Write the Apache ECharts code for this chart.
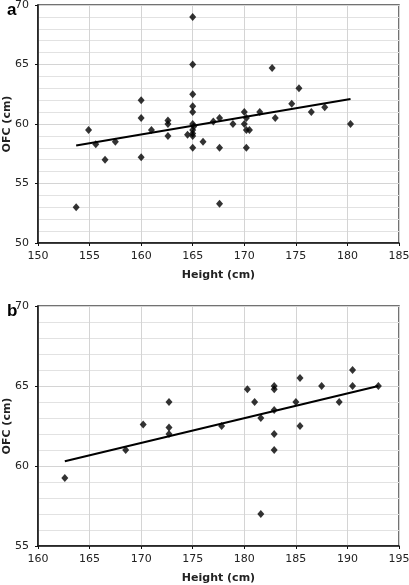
<!DOCTYPE html>
<html>
<head>
<meta charset="utf-8">
<script src="https://cdn.jsdelivr.net/npm/echarts@6/dist/echarts.min.js"></script>
<style>
html,body{margin:0;padding:0;background:#fff;}
#main{width:409px;height:585px;}
</style>
</head>
<body>
<div id="main"></div>
<script>
// Panel a data
var heightA = [165,165,165,165,165,165,165.1,165,165,165,165,
  172.7,175.3,174.6,180.3,176.5,177.8,173,171.5,
  170,170.2,170,170.2,170.5,170.2,168.9,167.6,167,167.6,166,164.5,
  160,160,161,162.6,162.6,162.6,154.9,155.6,157.5,156.5,160,153.7,167.6];
var ofcA = [69,65,62.5,61.5,61,60,59.8,59.5,59.2,59,58,
  64.7,63,61.7,60,61,61.4,60.5,61,
  61,60.5,60,59.5,59.5,58,60,60.5,60.2,58,58.5,59.1,
  62,60.5,59.5,60.3,60,59,59.5,58.3,58.5,57,57.2,53,53.3];
var trendAx = [153.7,180.3];
var trendAy = [58.2,62.1];

// Panel b data
var heightB = [193,190.5,190.5,189.2,187.5,185.4,185,185.4,182.9,182.9,182.9,182.9,182.9,
  180.3,181,181.6,181.6,177.8,172.7,172.7,172.7,170.2,168.5,162.6];
var ofcB = [65,66,65,64,65,65.5,64,62.5,65,64.8,63.5,62,61,
  64.8,64,63,57,62.5,64,62.4,62,62.6,61,59.25];
var trendBx = [162.6,193];
var trendBy = [60.3,65];

var xTicksA = [150,185], yTicksA = [50,70];
var xTicksB = [160,195], yTicksB = [55,70];

function pairs(xs, ys){ return xs.map(function(x,i){ return [x, ys[i]]; }); }

var FONT = 'DejaVu Sans';
function xAxis(gi, rng){
  return {
    type:'value', gridIndex:gi, min:rng[0], max:rng[1], interval:5,
    name:'Height (cm)', nameLocation:'middle', nameGap:27, nameMoveOverlap:false,
    nameTextStyle:{fontFamily:FONT, fontWeight:'bold', fontSize:11, color:'#222'},
    axisLine:{show:true, onZero:false, lineStyle:{color:'#111', width:1.5}},
    axisTick:{show:true, length:3, lineStyle:{color:'#111'}},
    axisLabel:{fontFamily:FONT, fontSize:11, color:'#222', margin:8},
    splitLine:{show:true, lineStyle:{color:'#d4d4d4', width:1}}
  };
}
function yAxis(gi, rng){
  return {
    type:'value', gridIndex:gi, min:rng[0], max:rng[1], interval:5,
    name:'OFC (cm)', nameLocation:'middle', nameGap:25, nameMoveOverlap:false,
    nameTextStyle:{fontFamily:FONT, fontWeight:'bold', fontSize:11, color:'#222'},
    axisLine:{show:true, onZero:false, lineStyle:{color:'#111', width:1.5}},
    axisTick:{show:true, length:3, lineStyle:{color:'#111'}},
    axisLabel:{fontFamily:FONT, fontSize:11, color:'#222', margin:9},
    splitLine:{show:true, lineStyle:{color:'#d4d4d4', width:1}},
    minorTick:{show:false, splitNumber:5},
    minorSplitLine:{show:true, lineStyle:{color:'#e2e2e2', width:1}}
  };
}
function scatter(xi, data){
  return {type:'scatter', xAxisIndex:xi, yAxisIndex:xi, data:data, symbol:'diamond',
    symbolSize:[7,8], itemStyle:{color:'#000'}, z:3, silent:true};
}
function trend(xi, data){
  return {type:'line', xAxisIndex:xi, yAxisIndex:xi, data:data, symbol:'none',
    lineStyle:{color:'#000', width:2}, z:4, silent:true};
}

var chart = echarts.init(document.getElementById('main'), null, {renderer:'canvas'});
chart.setOption({
  animation:false,
  backgroundColor:'#fff',
  title:[
    {text:'a', left:2, top:-3, textStyle:{fontFamily:'Liberation Sans', fontWeight:'bold', fontSize:17, color:'#000'}},
    {text:'b', left:2, top:298, textStyle:{fontFamily:'Liberation Sans', fontWeight:'bold', fontSize:17, color:'#000'}}
  ],
  grid:[
    {left:38, top:5, width:361, height:238, show:true, borderColor:'#444', borderWidth:1.5, backgroundColor:'transparent', containLabel:false, outerBoundsMode:'none'},
    {left:38, top:306, width:361, height:240, show:true, borderColor:'#444', borderWidth:1.5, backgroundColor:'transparent', containLabel:false, outerBoundsMode:'none'}
  ],
  xAxis:[xAxis(0, xTicksA), xAxis(1, xTicksB)],
  yAxis:[yAxis(0, yTicksA), yAxis(1, yTicksB)],
  series:[
    scatter(0, pairs(heightA, ofcA)),
    trend(0, pairs(trendAx, trendAy)),
    scatter(1, pairs(heightB, ofcB)),
    trend(1, pairs(trendBx, trendBy))
  ]
});
</script>
</body>
</html>
